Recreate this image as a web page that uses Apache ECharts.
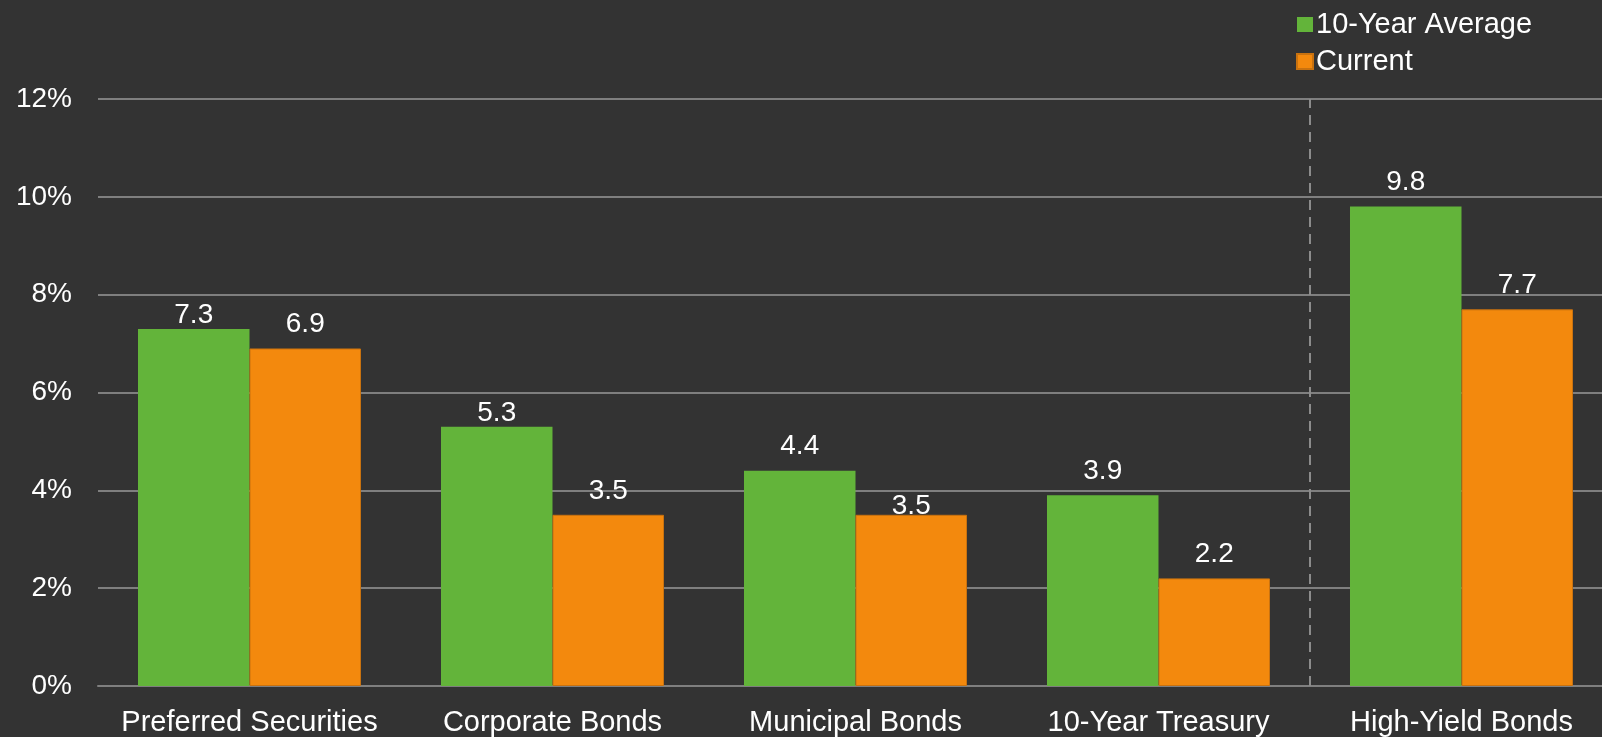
<!DOCTYPE html>
<html>
<head>
<meta charset="utf-8">
<script src="https://cdn.jsdelivr.net/npm/echarts@6/dist/echarts.min.js"></script>
<style>
html,body{margin:0;padding:0;background:#333333;}
#chart{width:1602px;height:737px;}
</style>
</head>
<body>
<div id="chart"></div>
<script>
const categories = ['Preferred Securities', 'Corporate Bonds', 'Municipal Bonds', '10-Year Treasury', 'High-Yield Bonds'];
const avg10 = [7.3, 5.3, 4.4, 3.9, 9.8];
const current = [6.9, 3.5, 3.5, 2.2, 7.7];
const seriesNames = ['10-Year Average', 'Current'];
const dividerBefore = 4;

// label vertical nudges (px, style only)
const avgLabelNudge = [10.5, 11, 0, 0, 0];
const curLabelNudge = [0, 0, 15, 0, 0];

const FONT = '"Liberation Sans", Arial, sans-serif';
const chart = echarts.init(document.getElementById('chart'));
const labelCfg = {
  show: true, position: 'top', distance: 10, color: '#ffffff',
  fontSize: 28, fontFamily: FONT,
  formatter: p => p.value.toFixed(1)
};
const withNudge = (vals, nudges) => vals.map((v, i) => ({
  value: v, label: { offset: [0, nudges[i]] }
}));
chart.setOption({
  backgroundColor: '#333333',
  animation: false,
  textStyle: { fontFamily: FONT },
  legend: {
    orient: 'vertical', left: 1291, top: 5,
    itemWidth: 16, itemHeight: 15, itemGap: 8,
    icon: 'rect',
    textStyle: { color: '#ffffff', fontSize: 29, fontFamily: FONT, padding: [0,0,0,-2] },
    data: seriesNames
  },
  grid: { left: 98, right: -11, top: 99, bottom: 51, containLabel: false, outerBoundsMode: 'none' },
  xAxis: [{
    type: 'category', data: categories,
    axisLine: { lineStyle: { color: '#7f7f7f', width: 2 } },
    axisTick: { show: false },
    axisLabel: { color: '#ffffff', fontSize: 29, fontFamily: FONT, margin: 22, interval: 0 },
    splitLine: { show: false }
  }, {
    type: 'value', min: 0, max: categories.length, show: false
  }],
  yAxis: {
    type: 'value', min: 0, max: 12, interval: 2,
    axisLine: { show: false }, axisTick: { show: false },
    axisLabel: { color: '#ffffff', fontSize: 28, fontFamily: FONT, margin: 26, formatter: '{value}%' },
    splitLine: { lineStyle: { color: '#7f7f7f', width: 2 } }
  },
  series: [
    { name: seriesNames[0], type: 'bar', data: withNudge(avg10, avgLabelNudge), barGap: '0%', barCategoryGap: '26.4%',
      itemStyle: { color: '#63b43a' }, label: labelCfg },
    { name: seriesNames[1], type: 'bar', data: withNudge(current, curLabelNudge),
      itemStyle: { color: '#f3890d', borderColor: '#c9720f', borderWidth: 1 }, label: labelCfg },
    { type: 'line', xAxisIndex: 1, data: [[0, 0]], showSymbol: false, silent: true,
      lineStyle: { width: 0 },
      markLine: {
        symbol: 'none', silent: true, animation: false,
        label: { show: false },
        lineStyle: { color: '#8c8c8c', type: [10, 7], width: 2 },
        data: [{ xAxis: dividerBefore }]
      }
    }
  ]
});
</script>
</body>
</html>
